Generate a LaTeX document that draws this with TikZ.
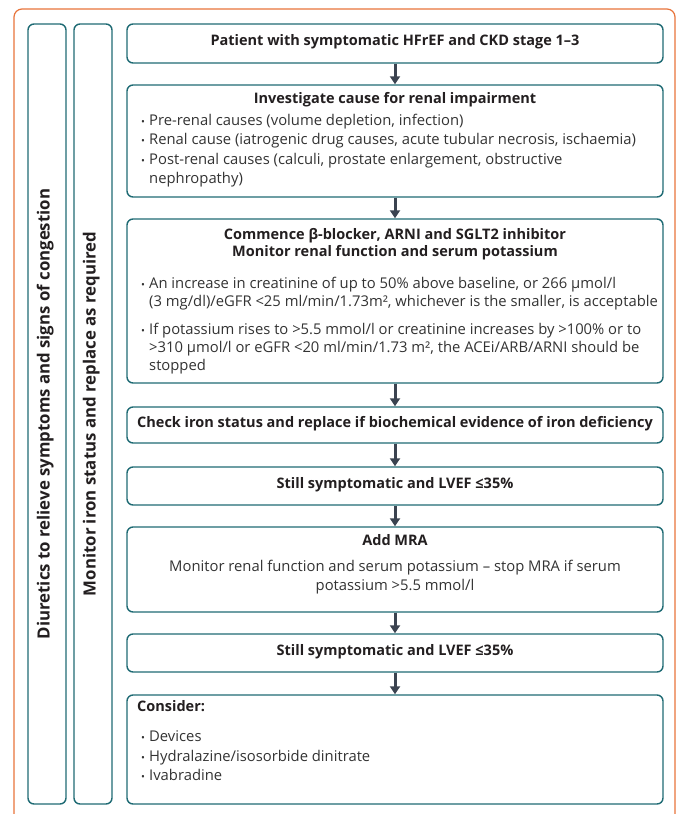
\documentclass[tikz,border=0pt]{standalone}
\usepackage{fontspec}
\setmainfont{Open Sans}
\usetikzlibrary{arrows.meta}
\definecolor{tealbox}{HTML}{1F6B74}
\definecolor{frameor}{HTML}{E8743B}
\definecolor{arrgray}{HTML}{3B4350}
\definecolor{txtdark}{HTML}{231F20}
\definecolor{txtbody}{HTML}{333333}
\newcommand{\bul}{\makebox[8pt][l]{\raisebox{0.3pt}{\scalebox{0.7}{•}}}}
\tikzset{
  box/.style={draw=tealbox, line width=1.4pt, rounded corners=6pt, minimum width=536pt, inner sep=0pt},
  col/.style={draw=tealbox, line width=1.4pt, rounded corners=6pt, minimum width=38pt, minimum height=780pt, inner sep=0pt},
  arr/.style={draw=arrgray, line width=3pt, -{Triangle[width=10pt,length=8pt]}},
  hd/.style={font=\fontsize{14.5}{17}\selectfont\bfseries, text=txtdark, inner sep=0pt, anchor=mid},
  hdl/.style={hd, anchor=mid west},
  tx/.style={font=\fontsize{14.8}{18}\selectfont, text=txtbody, inner sep=0pt, anchor=mid west},
  txc/.style={tx, anchor=mid},
  vt/.style={font=\fontsize{16.8}{19}\selectfont\bfseries, text=txtdark, inner sep=0pt, anchor=mid, rotate=90},
}
\begin{document}
\begin{tikzpicture}[x=1pt,y=-1pt]
\clip (0,0) rectangle (679,814);
\fill[white] (0,0) rectangle (679,814);
% outer frame
\draw[frameor, line width=1.2pt, rounded corners=8pt] (14,840) -- (14,9) -- (675,9) -- (675,840);
% side columns
\node[col] (c1) at (47,414) {};
\node[col] (c2) at (93,414) {};
\node[vt] (v1) at (c1.center) {Diuretics to relieve symptoms and signs of congestion};
\node[vt] (v2) at (c2.center) {Monitor iron status and replace as required};
% boxes
\node[box, minimum height=39pt]  (b1) at (395,43.5) {};
\node[box, minimum height=112pt] (b2) at (395,141) {};
\node[box, minimum height=164pt] (b3) at (395,301) {};
\node[box, minimum height=36pt]  (b4) at (395,425) {};
\node[box, minimum height=38pt]  (b5) at (395,486) {};
\node[box, minimum height=85pt]  (b6) at (395,569.5) {};
\node[box, minimum height=38pt]  (b7) at (395,653) {};
\node[box, minimum height=109pt] (b8) at (395,749.5) {};
% arrows
\draw[arr] (b1.south) -- (b2.north);
\draw[arr] (b2.south) -- (b3.north);
\draw[arr] (b3.south) -- (b4.north);
\draw[arr] (b4.south) -- (b5.north);
\draw[arr] (b5.south) -- (b6.north);
\draw[arr] (b6.south) -- (b7.north);
\draw[arr] (b7.south) -- (b8.north);
% box 1
\node[hd] (t1) at (395,43) {Patient with symptomatic HFrEF and CKD stage 1–3};
% box 2
\node[hd] (t2h) at (395,101) {Investigate cause for renal impairment};
\node[tx] (t2a) at (141,123) {\bul Pre-renal causes (volume depletion, infection)};
\node[tx] (t2b) at (141,142) {\bul Renal cause (iatrogenic drug causes, acute tubular necrosis, ischaemia)};
\node[tx] (t2c) at (141,162) {\bul Post-renal causes (calculi, prostate enlargement, obstructive};
\node[tx] (t2d) at (149,181) {nephropathy)};
% box 3
\node[hd] (t3h) at (395,237) {Commence β-blocker, ARNI and SGLT2 inhibitor};
\node[hd] (t3i) at (395,254) {Monitor renal function and serum potassium};
\node[tx] (t3a) at (141,286) {\bul An increase in creatinine of up to 50\% above baseline, or 266 µmol/l};
\node[tx] (t3b) at (149,304) {(3 mg/dl)/eGFR <25 ml/min/1.73m², whichever is the smaller, is acceptable};
\node[tx] (t3c) at (141,332) {\bul If potassium rises to >5.5 mmol/l or creatinine increases by >100\% or to};
\node[tx] (t3d) at (149,350) {>310 µmol/l or eGFR <20 ml/min/1.73 m², the ACEi/ARB/ARNI should be};
\node[tx] (t3e) at (149,368) {stopped};
% box 4
\node[hd] (t4) at (395,425) {Check iron status and replace if biochemical evidence of iron deficiency};
% box 5
\node[hd] (t5) at (395,486) {Still symptomatic and LVEF ≤35\%};
% box 6
\node[hd] (t6h) at (395,543) {Add MRA};
\node[txc] (t6a) at (395,569) {Monitor renal function and serum potassium – stop MRA if serum};
\node[txc] (t6b) at (395,588) {potassium >5.5 mmol/l};
% box 7
\node[hd] (t7) at (395,653) {Still symptomatic and LVEF ≤35\%};
% box 8
\node[hdl] (t8h) at (137,709) {Consider:};
\node[tx] (t8a) at (141,739) {\bul Devices};
\node[tx] (t8b) at (141,759) {\bul Hydralazine/isosorbide dinitrate};
\node[tx] (t8c) at (141,778) {\bul Ivabradine};
\end{tikzpicture}
\end{document}
